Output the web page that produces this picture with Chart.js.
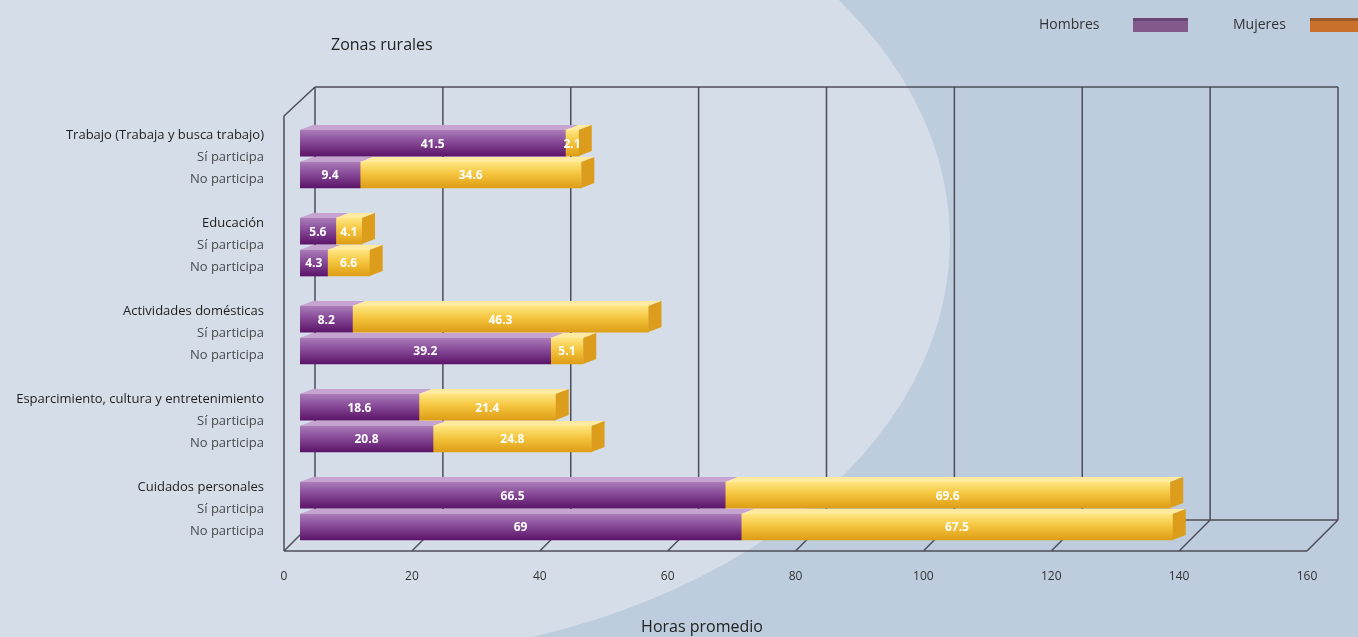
<!DOCTYPE html>
<html>
<head>
<meta charset="utf-8">
<script src="https://cdn.jsdelivr.net/npm/chart.js@4.4.1/dist/chart.umd.min.js"></script>
<style>
  html, body { margin: 0; padding: 0; }
  canvas { display: block; }
</style>
</head>
<body>
<canvas id="mycanvas" width="1358" height="637"></canvas>
<script>
var grupos = ['Trabajo (Trabaja y busca trabajo)', 'Educación', 'Actividades domésticas',
  'Esparcimiento, cultura y entretenimiento', 'Cuidados personales'];
var subgrupos = ['Sí participa', 'No participa'];
// horas promedio; por grupo: Sí participa, No participa
var hombres = [41.5, 9.4, 5.6, 4.3, 8.2, 39.2, 18.6, 20.8, 66.5, 69];
var mujeres = [2.1, 34.6, 4.1, 6.6, 46.3, 5.1, 21.4, 24.8, 69.6, 67.5];
var xTicks = [0, 20, 40, 60, 80, 100, 120, 140, 160];

// layout of the rows (4 label rows per group, bars sit between them)
var rowLabels = [];
grupos.forEach(function(g) { rowLabels.push(g, subgrupos[0], subgrupos[1], ''); });
var barOffset = [0.37, 1.82];
function rowOf(i) { return Math.floor(i / 2) * 4 + barOffset[i % 2]; }

var DX = 13, DY = 5;        // bar depth
var BACK = 15, FRONT = -16; // box depth (x shift of back / front planes)

function toPoints(values) {
  return values.map(function(v, i) { return { x: v, y: rowOf(i) }; });
}

function gradient(stops) {
  return function(ctx) {
    var chart = ctx.chart;
    if (!chart.chartArea || !ctx.raw) return stops[1];
    var yc = chart.scales.y.getPixelForValue(ctx.raw.y);
    var g = chart.ctx.createLinearGradient(0, yc - 13, 0, yc + 13);
    g.addColorStop(0, stops[0]);
    g.addColorStop(0.45, stops[1]);
    g.addColorStop(1, stops[2]);
    return g;
  };
}

var faces = {
  Hombres: { top: '#c6a3d0', side: '#5e2070' },
  Mujeres: { top: '#ffeaa0', side: '#dc9c1c' }
};

var decor = {
  id: 'decor',
  beforeDraw: function(chart) {
    var c = chart.ctx;
    c.save();
    c.fillStyle = '#bdcddd';
    c.fillRect(0, 0, chart.width, chart.height);
    c.fillStyle = '#d5dde8';
    c.fillRect(0, 0, 330, chart.height);
    c.beginPath();
    c.ellipse(330, 240, 620, 420, 0, 0, Math.PI * 2);
    c.fill();
    c.restore();
  },
  beforeDatasetsDraw: function(chart) {
    var c = chart.ctx, a = chart.chartArea, xs = chart.scales.x;
    var backTop = a.top, backBot = a.bottom - 31, frontBot = a.bottom, frontTop = a.top + 29;
    var x0 = xs.getPixelForValue(0), x1 = xs.getPixelForValue(160);
    c.save();
    c.strokeStyle = '#4e4e58';
    c.lineWidth = 1.5;
    c.beginPath();
    // back wall
    c.moveTo(x0 + BACK, backTop); c.lineTo(x1 + BACK, backTop);
    c.moveTo(x0 + BACK, backBot); c.lineTo(x1 + BACK, backBot);
    xTicks.forEach(function(v) {
      var px = xs.getPixelForValue(v);
      c.moveTo(px + BACK, backTop); c.lineTo(px + BACK, backBot);
      c.moveTo(px + BACK, backBot); c.lineTo(px + FRONT, frontBot);
    });
    // floor front edge and left wall
    c.moveTo(x0 + FRONT, frontBot); c.lineTo(x1 + FRONT, frontBot);
    c.moveTo(x0 + FRONT, frontBot); c.lineTo(x0 + FRONT, frontTop);
    c.lineTo(x0 + BACK, backTop);
    c.stroke();
    c.restore();
  },
  afterDatasetsDraw: function(chart) {
    var c = chart.ctx;
    var n = chart.data.datasets.length;
    c.save();
    chart.data.datasets.forEach(function(ds, di) {
      var meta = chart.getDatasetMeta(di);
      var f = faces[ds.label];
      meta.data.forEach(function(el) {
        var left = Math.min(el.x, el.base), right = Math.max(el.x, el.base);
        var top = el.y - el.height / 2, bot = el.y + el.height / 2;
        c.fillStyle = f.top;
        c.beginPath();
        c.moveTo(left, top); c.lineTo(left + DX, top - DY);
        c.lineTo(right + DX, top - DY); c.lineTo(right, top);
        c.closePath(); c.fill();
        if (di === n - 1) {
          c.fillStyle = f.side;
          c.beginPath();
          c.moveTo(right, top); c.lineTo(right + DX, top - DY);
          c.lineTo(right + DX, bot - DY); c.lineTo(right, bot);
          c.closePath(); c.fill();
        }
      });
    });
    // value labels
    c.fillStyle = '#ffffff';
    c.font = "bold 12px 'Open Sans'";
    c.textAlign = 'center';
    c.textBaseline = 'middle';
    chart.data.datasets.forEach(function(ds, di) {
      chart.getDatasetMeta(di).data.forEach(function(el, i) {
        c.fillText(String(ds.data[i].x), (el.x + el.base) / 2, el.y + 1);
      });
    });
    c.restore();
  },
  afterDraw: function(chart) {
    var c = chart.ctx;
    c.save();
    c.fillStyle = '#222';
    c.textBaseline = 'middle';
    c.font = "16px 'Open Sans'";
    c.textAlign = 'left';
    c.fillText('Zonas rurales', 331, 45);
    c.textAlign = 'center';
    c.fillText('Horas promedio', 702, 627);
    // legend
    c.font = "14px 'Open Sans'";
    c.textAlign = 'left';
    c.fillStyle = '#333';
    c.fillText('Hombres', 1039, 25);
    c.fillText('Mujeres', 1233, 25);
    c.fillStyle = '#835a8c'; c.fillRect(1133, 18, 55, 14);
    c.fillStyle = '#6a4676'; c.fillRect(1133, 18, 55, 3);
    c.fillStyle = '#c8702c'; c.fillRect(1310, 18, 55, 14);
    c.fillStyle = '#9a5a2a'; c.fillRect(1310, 18, 55, 3);
    c.restore();
  }
};

Chart.defaults.font.family = "'Open Sans', sans-serif";

var ctx = document.getElementById('mycanvas').getContext('2d');
var chart = new Chart(ctx, {
  type: 'bar',
  data: {
    datasets: [
      {
        label: 'Hombres',
        data: toPoints(hombres),
        backgroundColor: gradient(['#a97cb8', '#874a98', '#5c1468']),
        barThickness: 26,
        borderWidth: 0
      },
      {
        label: 'Mujeres',
        data: toPoints(mujeres),
        backgroundColor: gradient(['#ffe681', '#f5c53e', '#de9d16']),
        barThickness: 26,
        borderWidth: 0
      }
    ]
  },
  options: {
    indexAxis: 'y',
    responsive: false,
    animation: false,
    layout: { padding: { top: 87, left: 8, right: 35, bottom: 0 } },
    plugins: {
      legend: { display: false },
      title: { display: false },
      tooltip: { enabled: false }
    },
    scales: {
      x: {
        type: 'linear',
        stacked: true,
        min: 0,
        max: 160,
        afterFit: function(s) { s.height = 86; },
        grid: { display: false },
        border: { display: false },
        ticks: { stepSize: 20, labelOffset: -16, padding: 10, color: '#333', font: { size: 12 } }
      },
      y: {
        type: 'linear',
        stacked: true,
        reverse: true,
        offset: false,
        bounds: 'data',
        min: -2.18,
        max: 18.91,
        afterFit: function(s) { s.width = 292; },
        afterBuildTicks: function(s) {
          s.ticks = rowLabels.map(function(l, i) { return { value: i }; })
            .filter(function(t) { return rowLabels[t.value] !== ''; });
        },
        grid: { display: false },
        border: { display: false },
        ticks: {
          autoSkip: false,
          padding: 28,
          font: { size: 13 },
          color: function(c) { return c.tick && c.tick.value % 4 === 0 ? '#1e1e1e' : '#4a4a4a'; },
          callback: function(v) { return rowLabels[v]; }
        }
      }
    }
  },
  plugins: [decor]
});
</script>
</body>
</html>
